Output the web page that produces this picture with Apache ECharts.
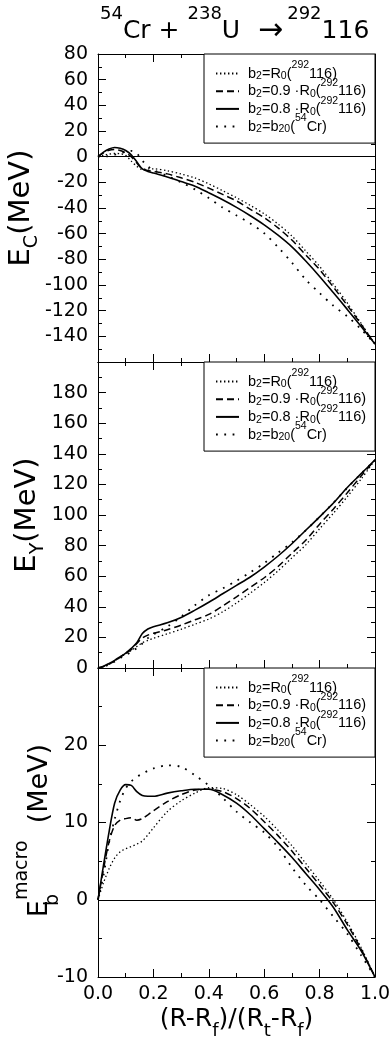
<!DOCTYPE html>
<html><head><meta charset="utf-8">
<script src="https://cdn.jsdelivr.net/npm/echarts@6/dist/echarts.min.js"></script>
<style>html,body{margin:0;padding:0;background:#fff}#c{width:391px;height:1042px}</style>
</head><body><div id="c"></div>
<script>
// ---------- data ----------
const X = [0, 0.02, 0.04, 0.06, 0.08, 0.10, 0.12, 0.14, 0.16, 0.18, 0.20, 0.25, 0.30, 0.35, 0.40, 0.45, 0.50, 0.55, 0.60, 0.65, 0.70, 0.75, 0.80, 0.85, 0.90, 0.95, 1.00];

// Panel 1: E_C (MeV)
const EC_R0  = [0, 1, 2, 2.5, 2.3, 1, -3.5, -7.5, -10, -9.5, -9.5, -11, -13.5, -16.6, -21.2, -26.5, -32, -38, -44.5, -52.5, -61.8, -73.5, -85.5, -99.5, -114, -130, -146];
const EC_09  = [0, 3, 5, 5.5, 4.8, 3, 0, -5, -9.5, -10.8, -11.5, -13.4, -16.5, -20, -24.5, -29.4, -34.5, -41, -47.5, -55.5, -65, -76.5, -88, -101.7, -115.9, -130.7, -146];
const EC_08  = [0, 3.5, 6, 7.2, 6.5, 4.8, 1.5, -4, -9.5, -11.5, -12.8, -15.8, -19.4, -23, -28.2, -33.6, -39.5, -46, -53.1, -61.2, -70.3, -81.3, -93.3, -106.1, -119, -132.3, -146];
const EC_B20 = [0, 0, 0.5, 1.5, 2.5, 3.8, 4.5, 2.5, -3, -7.5, -10.5, -15, -20, -25.5, -32.3, -39.6, -45.8, -52, -59.7, -70.5, -82.6, -95.8, -106.3, -116.2, -124.5, -134.5, -146];

// Panel 2: E_Y (MeV)
const EY_R0  = [0, 1, 2.5, 4.5, 7, 9.3, 11.5, 14, 16.5, 18, 19.4, 22.3, 25.3, 28.6, 32, 36.7, 42.5, 49, 55.8, 63.5, 72, 80.5, 91, 101.2, 112, 123.5, 136];
const EY_09  = [0, 1, 2.5, 4.6, 7.1, 9.6, 12, 16, 19.5, 21.5, 22.7, 25, 28, 31.5, 35, 40.5, 46.5, 52.8, 59, 66.3, 75, 83.5, 94, 104, 114.5, 125.5, 136];
const EY_08  = [0, 1.2, 3, 5, 7.3, 9.7, 12.8, 16.5, 22.5, 25.5, 27, 29.5, 33, 37.8, 43, 48.5, 54, 59.5, 66, 73.2, 81.2, 90, 98.8, 107.8, 118, 127, 136];
const EY_B20 = [0, 0.8, 2.2, 4.2, 6.5, 8.5, 10.5, 13, 16, 19.5, 22, 27, 33.5, 41, 47.5, 52, 57, 62.5, 68.5, 75.3, 82, 90, 98.8, 108, 117.8, 127, 136];

// Panel 3: E_b^macro (MeV)
const EB_R0  = [0, 2.2, 4.0, 5.4, 6.2, 6.6, 6.9, 7.2, 7.6, 8.4, 9.3, 11.4, 12.8, 13.8, 14.5, 14.4, 13.6, 12.3, 10.8, 9.0, 7.0, 4.7, 2.4, 0, -2.9, -6.2, -10];
const EB_09  = [0, 4, 7.5, 9.6, 10.3, 10.5, 10.6, 10.3, 10.5, 11.0, 11.5, 12.7, 13.6, 14.2, 14.3, 14.0, 13.1, 11.8, 10.1, 8.3, 6.3, 4.1, 1.9, -0.4, -3.2, -6.4, -10];
const EB_08  = [0, 4.5, 8.8, 12.5, 14.2, 14.9, 14.8, 14.0, 13.5, 13.4, 13.4, 13.8, 14.1, 14.3, 14.3, 13.6, 12.5, 11.0, 9.2, 7.4, 5.5, 3.4, 1.3, -1.0, -3.9, -6.6, -10];
const EB_B20 = [0, 3.2, 7.4, 10.4, 12.8, 14.4, 15.3, 15.9, 16.3, 16.7, 17.0, 17.4, 17.2, 16.1, 14.8, 13.2, 11.4, 10.0, 8.7, 6.8, 4.2, 1.9, 0, -2.2, -4.4, -7.2, -10];

const X_RANGE = [0, 1, 0.2];
const Y_RANGES = [[-160, 80, 20], [0, 200, 20], [-10, 30, 10]];
const LEGEND_NAMES = ['b2=R0(292116)', 'b2=0.9 ·R0(292116)', 'b2=0.8 ·R0(292116)', 'b2=b20(54Cr)'];
const LEGEND_RICH = [
  '{n| b}{sub|2}{n|=R}{sub|0}{n|(}{sup|292}{n|116)}',
  '{n| b}{sub|2}{n|=0.9 ·R}{sub|0}{n|(}{sup|292}{n|116)}',
  '{n| b}{sub|2}{n|=0.8 ·R}{sub|0}{n|(}{sup|292}{n|116)}',
  '{n| b}{sub|2}{n|=b}{sub|20}{n|(}{sup|54}{n|Cr)}'
];
const TITLE = '{sup|54}{n|Cr + }{sup|238}{n|U }{ar|→}{sup|292}{n|116}';
const Y_NAMES = ['{n|E}{sub|C}{n|(MeV)}', '{n|E}{sub|Y}{n|(MeV)}', '{n|E}{sb|b}{sup|macro}{n|  (MeV)}'];
const X_NAME = '{n|(R-R}{sub|f}{n|)/(R}{sub|t}{n|-R}{sub|f}{n|)}';

const PANELS = [[EC_R0, EC_09, EC_08, EC_B20], [EY_R0, EY_09, EY_08, EY_B20], [EB_R0, EB_09, EB_08, EB_B20]];

// ---------- styles ----------
const FONT = "'DejaVu Sans', sans-serif";
const LFONT = "'Liberation Sans', Arial, sans-serif";
const GRID_TOPS = [54, 362, 668];
const GRID_H = [308, 306, 309];
const LINE_TYPES = [[1.4, 2.6], [7, 4], 'solid', [1.8, 6.5]];
const LINE_WIDTHS = [1.3, 1.5, 1.6, 1.8];
const NAME_GAPS = [59, 53, 40];
const black = '#000';

function rs(size, lh, pad, extra, fam) {
  return Object.assign({fontSize: size, lineHeight: lh, fontFamily: fam || FONT, color: black, verticalAlign: 'middle'},
    pad ? {padding: pad} : {}, extra || {});
}

const grids = GRID_TOPS.map((t, i) => ({left: 98, right: 16, top: t, height: GRID_H[i], containLabel: false, outerBoundsMode: 'none'}));

const xAxes = [];
const yAxes = [];
for (let p = 0; p < 3; p++) {
  ['bottom', 'top'].forEach(pos => {
    const isLabeled = (pos === 'bottom' && p === 2);
    xAxes.push({
      gridIndex: p, type: 'value', position: pos, min: X_RANGE[0], max: X_RANGE[1], interval: X_RANGE[2],
      axisLine: {show: true, onZero: false, lineStyle: {color: black, width: 1}},
      axisTick: {show: true, inside: true, length: 8, lineStyle: {color: black, width: 1}},
      minorTick: {show: true, splitNumber: 2, length: 4, lineStyle: {color: black, width: 1}},
      splitLine: {show: false}, minorSplitLine: {show: false},
      axisLabel: {show: isLabeled, fontSize: 19, color: black, fontFamily: FONT, margin: 8,
        formatter: v => v.toFixed(1)},
      name: isLabeled ? X_NAME : '', nameLocation: 'middle', nameGap: 27, nameMoveOverlap: false,
      nameTextStyle: {fontFamily: FONT, color: black, fontSize: 25, rich: {
        n: rs(25, 30),
        sub: rs(18, 30, [25, 0, 0, 0])
      }}
    });
  });
  ['left', 'right'].forEach(pos => {
    const r = Y_RANGES[p];
    const isLeft = pos === 'left';
    yAxes.push({
      gridIndex: p, type: 'value', position: pos, min: r[0], max: r[1], interval: r[2],
      axisLine: {show: true, onZero: false, lineStyle: {color: black, width: 1}},
      axisTick: {show: true, inside: true, length: 8, lineStyle: {color: black, width: 1}},
      minorTick: {show: true, splitNumber: 2, length: 4, lineStyle: {color: black, width: 1}},
      splitLine: {show: false}, minorSplitLine: {show: false},
      axisLabel: {show: isLeft, fontSize: 19, color: black, fontFamily: FONT, margin: 10,
        showMinLabel: p !== 0, showMaxLabel: p === 0},
      name: isLeft ? Y_NAMES[p] : '', nameLocation: 'middle', nameGap: NAME_GAPS[p], nameMoveOverlap: false,
      nameTextStyle: {fontFamily: FONT, color: black, fontSize: 29,
        padding: p === 2 ? [0, 16, 0, 0] : 0,
        rich: p === 2 ? {
          n: rs(27, 36),
          sb: rs(19, 36, [26, 0, 0, 0], {width: 0}),
          sup: rs(19, 36, [0, 0, 36, 0])
        } : {
          n: rs(29, 36),
          sub: rs(19, 36, [22, 0, 0, 0])
        }}
    });
  });
}

const series = [];
for (let p = 0; p < 3; p++) {
  for (let k = 0; k < 4; k++) {
    const s = {
      type: 'line', name: LEGEND_NAMES[k], xAxisIndex: 2 * p, yAxisIndex: 2 * p,
      data: X.map((x, i) => [x, PANELS[p][k][i]]),
      symbol: 'none', smooth: 0.3, silent: true,
      lineStyle: {color: black, width: LINE_WIDTHS[k], type: LINE_TYPES[k], cap: 'butt'},
      itemStyle: {color: black}
    };
    if (k === 2 && p !== 1) {
      s.markLine = {silent: true, symbol: 'none', label: {show: false},
        lineStyle: {color: black, width: 1, type: 'solid'}, data: [{yAxis: 0}], animation: false};
    }
    series.push(s);
  }
}

const legendRich = {
  n: rs(14.5, 17, null, null, LFONT),
  sub: rs(10.5, 17, [6, 0, 0, 0], null, LFONT),
  sup: rs(10.5, 17, [0, 0, 16, 0], null, LFONT)
};
const legends = GRID_TOPS.map(t => ({
  data: LEGEND_NAMES, orient: 'vertical', left: 204, top: t,
  padding: [6, 9, 3, 11], itemGap: -9.3, itemWidth: 23, itemHeight: 12,
  backgroundColor: '#fff', borderColor: black, borderWidth: 1, borderRadius: 0,
  selectedMode: false, z: 10,
  itemStyle: {opacity: 0},
  formatter: name => LEGEND_RICH[LEGEND_NAMES.indexOf(name)],
  textStyle: {color: black, fontFamily: LFONT, fontSize: 14.5, rich: legendRich}
}));

const chart = echarts.init(document.getElementById('c'), null, {renderer: 'canvas'});
chart.setOption({
  animation: false,
  backgroundColor: '#fff',
  textStyle: {fontFamily: FONT, color: black},
  title: {
    text: TITLE, left: 100, top: 11, padding: 0,
    textStyle: {fontFamily: FONT, color: black, fontSize: 25, fontWeight: 'normal', rich: {
      n: rs(25, 40),
      sup: rs(18, 40, [0, 0, 33, 0]),
      ar: rs(30, 40, [0, 4, 0, 10])
    }}
  },
  grid: grids,
  xAxis: xAxes,
  yAxis: yAxes,
  legend: legends,
  series: series
});
</script>
</body></html>
